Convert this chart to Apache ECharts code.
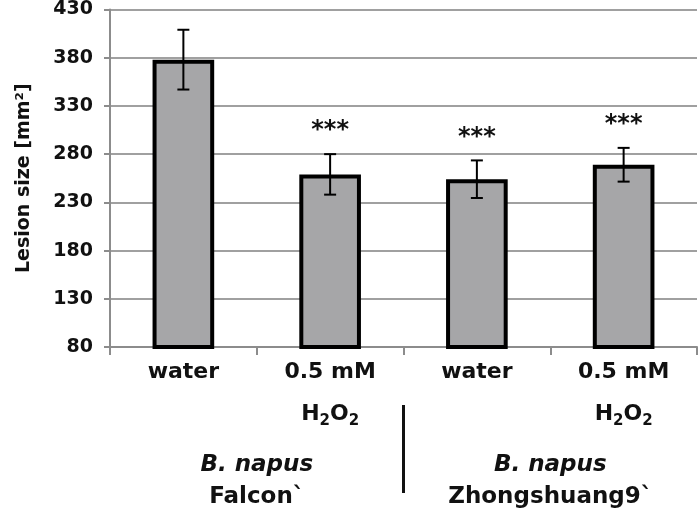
<!DOCTYPE html>
<html><head><meta charset="utf-8">
<script src="https://cdn.jsdelivr.net/npm/echarts@6/dist/echarts.min.js"></script>
<style>html,body{margin:0;padding:0;background:#fff}#c{width:700px;height:520px}</style>
</head><body><div id="c"></div>
<script>
const categories = ['water', '0.5 mM H2O2', 'water', '0.5 mM H2O2'];
const lesionMeans = [378, 259, 254, 269];
const lesionErrors = [31, 21, 19.5, 17.5];
const significance = ['', '***', '***', '***'];
const groups = [{name: 'Falcon`', from: 0, to: 1}, {name: 'Zhongshuang9`', from: 2, to: 3}];
const yTicks = {min: 80, max: 430, interval: 50};

const FONT = 'DejaVu Sans';
const chart = echarts.init(document.getElementById('c'));

function catLabel(v) {
  if (v.indexOf('H2O2') >= 0) return '{t|0.5 mM}\n{t|H}{s|2}{t|O}{s|2}';
  return '{t|' + v + '}';
}

const errData = lesionMeans.map((m, i) => [i, m - lesionErrors[i], m + lesionErrors[i], significance[i]]);

chart.setOption({
  animation: false,
  grid: {left: 110, right: 3, top: 8, bottom: 173},
  xAxis: {
    type: 'category', data: categories,
    axisLine: {lineStyle: {color: '#8c8c8c', width: 2}},
    axisTick: {show: true, length: 8, lineStyle: {color: '#8c8c8c', width: 2}},
    axisLabel: {
      margin: 4, interval: 0,
      formatter: (v) => catLabel(v),
      rich: {
        t: {fontFamily: FONT, fontWeight: 'bold', fontSize: 22, color: '#111', lineHeight: 42},
        s: {fontFamily: FONT, fontWeight: 'bold', fontSize: 15, color: '#111', lineHeight: 42, padding: [14, 0, 0, 0]}
      }
    }
  },
  yAxis: {
    type: 'value', min: yTicks.min, max: yTicks.max, interval: yTicks.interval,
    name: 'Lesion size [mm²]', nameLocation: 'middle', nameGap: 76,
    nameTextStyle: {fontFamily: FONT, fontWeight: 'bold', fontSize: 19, color: '#111'},
    axisLine: {show: true, lineStyle: {color: '#8c8c8c', width: 2}},
    axisTick: {show: true, length: 6, lineStyle: {color: '#8c8c8c', width: 2}},
    axisLabel: {fontFamily: FONT, fontWeight: 'bold', fontSize: 19, color: '#111', margin: 17},
    splitLine: {lineStyle: {color: '#a0a0a0', width: 2}}
  },
  series: [
    {
      type: 'bar', data: lesionMeans, barWidth: '42%',
      itemStyle: {color: '#a6a6a8', borderColor: '#000', borderWidth: 4}
    },
    {
      type: 'custom', data: errData, z: 5,
      renderItem: function (params, api) {
        const x = api.value(0);
        const lo = api.coord([x, api.value(1)]);
        const hi = api.coord([x, api.value(2)]);
        const w = 6;
        const st = {stroke: '#000', lineWidth: 2};
        const children = [
          {type: 'line', shape: {x1: lo[0], y1: lo[1], x2: hi[0], y2: hi[1]}, style: st},
          {type: 'line', shape: {x1: lo[0] - w, y1: lo[1], x2: lo[0] + w, y2: lo[1]}, style: st},
          {type: 'line', shape: {x1: hi[0] - w, y1: hi[1], x2: hi[0] + w, y2: hi[1]}, style: st}
        ];
        const sig = significance[params.dataIndex];
        if (sig) {
          children.push({type: 'text', style: {text: sig, x: hi[0], y: hi[1] - 23, align: 'center', verticalAlign: 'middle',
            fontFamily: FONT, fontWeight: 'bold', fontSize: 24, fill: '#111'}});
        }
        return {type: 'group', children: children};
      }
    }
  ]
});

const p0 = chart.convertToPixel({xAxisIndex: 0}, 0);
const p1 = chart.convertToPixel({xAxisIndex: 0}, 1);
const step = p1 - p0;
const graphics = [];
groups.forEach(g => {
  const cx = (chart.convertToPixel({xAxisIndex: 0}, g.from) + chart.convertToPixel({xAxisIndex: 0}, g.to)) / 2;
  graphics.push({type: 'text', x: cx, y: 465, style: {text: 'B. napus', align: 'center', verticalAlign: 'middle',
    fontFamily: FONT, fontWeight: 'bold', fontStyle: 'italic', fontSize: 23, fill: '#111'}});
  graphics.push({type: 'text', x: cx, y: 497, style: {text: g.name, align: 'center', verticalAlign: 'middle',
    fontFamily: FONT, fontWeight: 'bold', fontSize: 23, fill: '#111'}});
});
const divX = chart.convertToPixel({xAxisIndex: 0}, 1) + step / 2;
graphics.push({type: 'line', shape: {x1: divX, y1: 405, x2: divX, y2: 493}, style: {stroke: '#111', lineWidth: 3}});
chart.setOption({graphic: graphics});
</script>
</body></html>
